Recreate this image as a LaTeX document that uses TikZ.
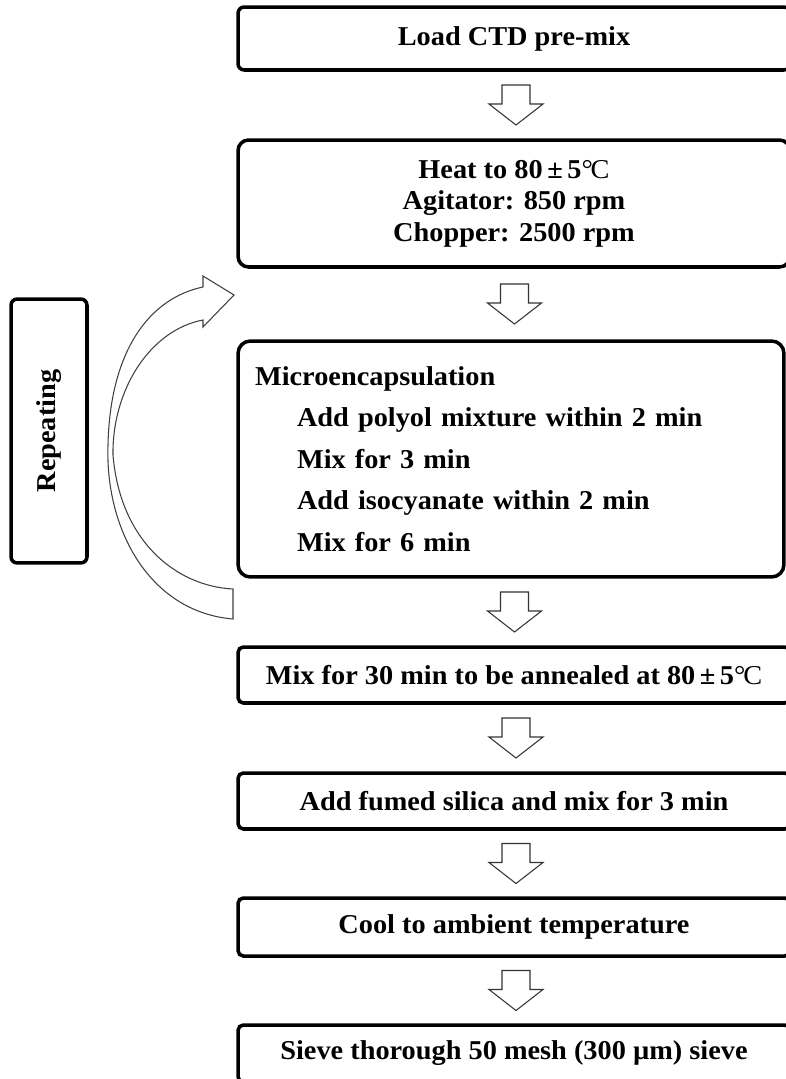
\documentclass[tikz,border=0pt]{standalone}
\usepackage{fontspec}
\setmainfont[FakeStretch=1.04]{Liberation Serif}
\usepackage{tikz}
\usetikzlibrary{calc}

\newcommand{\degC}{{\mdseries\textdegree\kern-0.08em C}}
\newcommand{\pmdeg}{80\,±\,5\degC}
\newcommand{\blockarrow}[2]{%
  \path ($(#1.south)!0.5!(#2.north)$) ++(2,0) coordinate (c);
  \draw[flowarrow] ($(c)+(-14,-20)$) -- ($(c)+(14,-20)$) -- ($(c)+(14,-1)$)
    -- ($(c)+(27,-1)$) -- ($(c)+(0,20)$) -- ($(c)+(-27,-1)$)
    -- ($(c)+(-14,-1)$) -- cycle;}

\tikzset{
  stepbox/.style={draw, line width=2pt, rounded corners=3pt, inner sep=0pt,
    minimum width=11.04cm, minimum height=1.14cm,
    font=\bfseries\fontsize{15.5}{17.9}\selectfont},
  flowarrow/.style={draw=black!80, line width=0.6pt, fill=white},
  looparrow/.style={draw=black!75, line width=0.6pt, fill=white},
}

\begin{document}
\begin{tikzpicture}[x=0.02cm, y=-0.02cm]
            \useasboundingbox (0,0) rectangle (786,1079);
            % Steps
            \node[stepbox, rounded corners=3.5pt, minimum height=1.26cm] (load) at (514,38.5) {Load CTD pre-mix};
            \node[stepbox, rounded corners=6pt, minimum height=2.54cm, align=center] (heat) at (514,203.5)
                {Heat to \pmdeg\\Agitator: 850 rpm\\Chopper: 2500 rpm};
            \node[stepbox, rounded corners=7pt, minimum width=10.92cm, minimum height=4.72cm,
                  inner xsep=0.34cm, text width=10.24cm, align=left,
                  font=\bfseries\fontsize{15.5}{23.7}\selectfont] (micro) at (511,459)
                {Microencapsulation\\
                 \hspace*{0.84cm}Add polyol mixture within 2 min\\
                 \hspace*{0.84cm}Mix for 3 min\\
                 \hspace*{0.84cm}Add isocyanate within 2 min\\
                 \hspace*{0.84cm}Mix for 6 min};
            \node[stepbox, minimum height=1.12cm] (anneal) at (514,675) {Mix for 30 min to be annealed at \pmdeg};
            \node[stepbox, minimum height=1.12cm] (silica) at (514,801) {Add fumed silica and mix for 3 min};
            \node[stepbox, minimum height=1.16cm] (cool) at (514,927) {Cool to ambient temperature};
            \node[stepbox] (sieve) at (514,1053.5) {Sieve thorough 50 mesh (300 µm) sieve};
            % Arrows
            \blockarrow{load}{heat}
            \blockarrow{heat}{micro}
            \blockarrow{micro}{anneal}
            \blockarrow{anneal}{silica}
            \blockarrow{silica}{cool}
            \blockarrow{cool}{sieve}
            % Repeating
            \node[stepbox, rounded corners=3.5pt, rotate=90, minimum width=5.28cm, minimum height=1.52cm] (repeat) at (49,431) {Repeating};
            \draw[looparrow] (233,619) .. controls (150,612) and (105,530) .. (108,445)
                .. controls (110,350) and (150,298) .. (203,287)
                -- (203,276) -- (234,295) -- (203,327) -- (203,320)
                .. controls (150,330) and (112,390) .. (113,455)
                .. controls (120,540) and (175,586) .. (233,589) -- cycle;
        \end{tikzpicture}
\end{document}
